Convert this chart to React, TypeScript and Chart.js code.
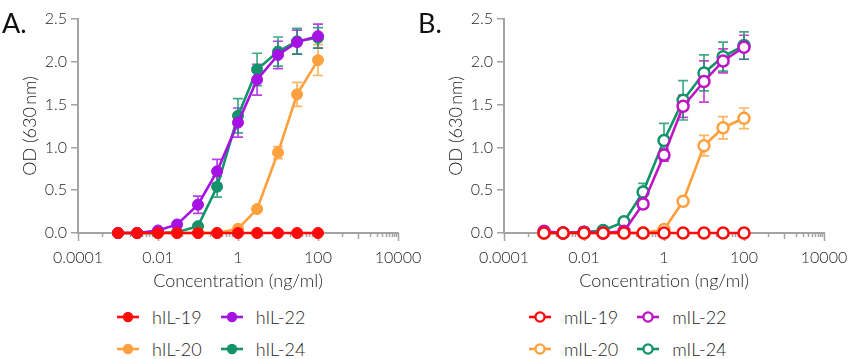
import React, { useEffect, useRef } from 'react';
import { Chart, registerables } from 'chart.js';

Chart.register(...registerables);

// ---------- data ----------
const concentrations = [0.001, 0.003, 0.01, 0.03, 0.1, 0.3, 1, 3, 10, 30, 100];

const hIL19 = [0, 0, 0, 0, 0, 0, 0, 0, 0, 0, 0];
const hIL19Err = [0, 0, 0, 0, 0, 0, 0, 0, 0, 0, 0];
const hIL20 = [0, 0, 0, 0, 0, 0, 0.05, 0.28, 0.94, 1.62, 2.02];
const hIL20Err = [0, 0, 0, 0, 0, 0, 0.02, 0.03, 0.07, 0.14, 0.18];
const hIL22 = [0, 0, 0.03, 0.1, 0.33, 0.72, 1.29, 1.79, 2.08, 2.23, 2.3];
const hIL22Err = [0, 0, 0.01, 0.02, 0.1, 0.14, 0.17, 0.18, 0.16, 0.14, 0.14];
const hIL24 = [0, 0, 0, 0.01, 0.08, 0.54, 1.37, 1.91, 2.12, 2.24, 2.28];
const hIL24Err = [0, 0, 0, 0.01, 0.03, 0.12, 0.2, 0.19, 0.17, 0.15, 0.12];

const mIL19 = [0, 0, 0, 0, 0, 0, 0, 0, 0, 0, 0];
const mIL19Err = [0, 0, 0, 0, 0, 0, 0, 0, 0, 0, 0];
const mIL20 = [0, 0, 0, 0, 0, 0, 0.04, 0.37, 1.02, 1.23, 1.34];
const mIL20Err = [0, 0, 0, 0, 0, 0, 0.02, 0.03, 0.12, 0.13, 0.12];
const mIL22 = [0.02, 0, 0.01, 0, 0.02, 0.34, 0.91, 1.48, 1.77, 2.01, 2.17];
const mIL22Err = [0, 0, 0, 0, 0.01, 0.04, 0.07, 0.13, 0.24, 0.14, 0.14];
const mIL24 = [0, 0, 0.01, 0.03, 0.13, 0.48, 1.08, 1.55, 1.87, 2.06, 2.19];
const mIL24Err = [0, 0, 0, 0.01, 0.02, 0.1, 0.2, 0.23, 0.21, 0.17, 0.16];

const xTickValues = [0.0001, 0.01, 1, 100, 10000];
const xTickLabels = ['0.0001', '0.01', '1', '100', '10000'];
const yTickLabels = ['0.0', '0.5', '1.0', '1.5', '2.0', '2.5'];

const xTitle = 'Concentration (ng/ml)';
const yTitle = 'OD (630\u2009nm)';

// ---------- styles ----------
const RED = '#ff0a0a';
const ORANGE = '#ffa03f';
const PURPLE = '#a512e3';
const GREEN = '#12936a';
const MAGENTA = '#bf14c6';
const AXIS = '#a3a3a3';
const TEXT = '#1f1f1f';
const FONT = 'Lato, "Noto Sans", sans-serif';
const WEIGHT = 300;

type Series = {
  label: string;
  values: number[];
  errors: number[];
  color: string;
  hollow: boolean;
};

function hexToRgba(hex: string, a: number) {
  const h = hex.replace('#', '');
  const r = parseInt(h.slice(0, 2), 16);
  const g = parseInt(h.slice(2, 4), 16);
  const b = parseInt(h.slice(4, 6), 16);
  return `rgba(${r},${g},${b},${a})`;
}

// minor ticks derived from the labelled decades
function buildMinorTicks() {
  const out: { v: number; len: number }[] = [];
  for (let i = 0; i < xTickValues.length - 1; i++) {
    const base = xTickValues[i];
    out.push({ v: base * 4, len: 4 });
    out.push({ v: base * 10, len: 6 });
    for (let k = 2; k <= 9; k++) out.push({ v: base * 10 * k, len: 4 });
  }
  return out;
}
const xMinorTicks = buildMinorTicks();

const axisPlugin = {
  id: 'customAxisAndErrors',
  beforeDatasetsDraw(chart: any) {
    const { ctx, scales, chartArea } = chart;
    const x = scales.x;
    const y = scales.y;
    const yAxis = chartArea.bottom;
    ctx.save();
    ctx.strokeStyle = AXIS;
    ctx.lineWidth = 1.5;
    xTickValues.forEach((v) => {
      const px = Math.round(x.getPixelForValue(v)) + 0.5;
      ctx.beginPath();
      ctx.moveTo(px, yAxis);
      ctx.lineTo(px, yAxis + 8);
      ctx.stroke();
    });
    xMinorTicks.forEach((t) => {
      const px = Math.round(x.getPixelForValue(t.v)) + 0.5;
      ctx.beginPath();
      ctx.moveTo(px, yAxis);
      ctx.lineTo(px, yAxis + t.len);
      ctx.stroke();
    });
    ctx.restore();

    chart.data.datasets.forEach((ds: any) => {
      const errs: number[] = ds.errors;
      if (!errs) return;
      ctx.save();
      ctx.strokeStyle = ds.errorColor;
      ctx.lineWidth = 1.7;
      ds.data.forEach((pt: any, j: number) => {
        const e = errs[j];
        if (!e) return;
        const px = x.getPixelForValue(pt.x);
        const top = y.getPixelForValue(pt.y + e);
        const bot = y.getPixelForValue(Math.max(pt.y - e, 0));
        ctx.beginPath();
        ctx.moveTo(px, top);
        ctx.lineTo(px, bot);
        ctx.moveTo(px - 5, top);
        ctx.lineTo(px + 5, top);
        if (pt.y - e > 0) {
          ctx.moveTo(px - 5, bot);
          ctx.lineTo(px + 5, bot);
        }
        ctx.stroke();
      });
      ctx.restore();
    });
  },
};

function Panel({ series, drawOrder }: { series: Series[]; drawOrder: number[] }) {
  const ref = useRef<HTMLCanvasElement | null>(null);
  useEffect(() => {
    if (!ref.current) return;
    const datasets = drawOrder.map((idx) => {
      const s = series[idx];
      return {
        label: s.label,
        data: concentrations.map((c, i) => ({ x: c, y: s.values[i] })),
        errors: s.errors,
        errorColor: hexToRgba(s.color, 0.8),
        borderColor: s.color,
        backgroundColor: s.hollow ? '#ffffff' : s.color,
        pointBackgroundColor: s.hollow ? '#ffffff' : s.color,
        pointBorderColor: s.color,
        pointBorderWidth: s.hollow ? 2.5 : 1,
        pointRadius: 5.5,
        borderWidth: 2.6,
        tension: 0,
        clip: false as any,
      };
    });
    const chart = new Chart(ref.current, {
      type: 'line',
      data: { datasets: datasets as any },
      plugins: [axisPlugin],
      options: {
        animation: false,
        responsive: false,
        maintainAspectRatio: false,
        devicePixelRatio: 1,
        layout: { padding: { top: 19, right: 27, left: 0, bottom: 0 } },
        plugins: { legend: { display: false }, tooltip: { enabled: false } },
        scales: {
          x: {
            type: 'logarithmic',
            min: 0.0001,
            max: 10000,
            afterBuildTicks: (scale: any) => {
              scale.ticks = xTickValues.map((v) => ({ value: v }));
            },
            afterFit: (scale: any) => {
              scale.height = 67;
              scale.paddingLeft = 0;
              scale.paddingRight = 0;
            },
            ticks: {
              autoSkip: false,
              maxRotation: 0,
              minRotation: 0,
              padding: 15,
              color: TEXT,
              font: { family: FONT, size: 16, weight: WEIGHT as any },
              callback: (v: any) => {
                const i = xTickValues.findIndex((t) => Math.abs(Math.log10(t) - Math.log10(Number(v))) < 1e-6);
                return i >= 0 ? xTickLabels[i] : '';
              },
            },
            grid: { display: false, drawTicks: false },
            border: { display: true, color: AXIS, width: 2 },
            title: {
              display: true,
              text: xTitle,
              color: TEXT,
              font: { family: FONT, size: 18, weight: WEIGHT as any },
              padding: { top: 0, bottom: 8 },
            },
          },
          y: {
            type: 'linear',
            min: 0,
            max: 2.5,
            afterFit: (scale: any) => {
              scale.width = 78;
            },
            ticks: {
              stepSize: 0.5,
              padding: 4,
              color: TEXT,
              font: { family: FONT, size: 16, weight: WEIGHT as any },
              callback: (v: any) => {
                const i = Math.round(Number(v) / 0.5);
                return yTickLabels[i] ?? '';
              },
            },
            grid: {
              display: true,
              drawOnChartArea: false,
              drawTicks: true,
              tickLength: 7,
              color: AXIS,
              lineWidth: 1.5,
            },
            border: { display: true, color: AXIS, width: 2 },
            title: {
              display: true,
              text: yTitle,
              color: TEXT,
              font: { family: FONT, size: 18, weight: WEIGHT as any },
              padding: { top: 19, bottom: 0 },
            },
          },
        },
      },
    });
    return () => chart.destroy();
  }, []);
  return <canvas ref={ref} width={425} height={300} style={{ display: 'block', width: 425, height: 300 }} />;
}

function Marker({ color, hollow }: { color: string; hollow: boolean }) {
  return (
    <svg width={24} height={14} style={{ display: 'block' }}>
      <line x1={1} y1={7} x2={23} y2={7} stroke={color} strokeWidth={2.6} />
      <circle cx={12} cy={7} r={hollow ? 4.6 : 5.2} fill={hollow ? '#fff' : color} stroke={color} strokeWidth={hollow ? 2.4 : 0} />
    </svg>
  );
}

function Legend({ items, left }: { items: Series[]; left: number }) {
  return (
    <div
      style={{
        position: 'absolute',
        left,
        top: 301,
        display: 'grid',
        gridTemplateColumns: 'auto auto',
        columnGap: 18,
        rowGap: 0,
      }}
    >
      {items.map((s) => (
        <div key={s.label} style={{ display: 'flex', alignItems: 'center', height: 32 }}>
          <Marker color={s.color} hollow={s.hollow} />
          <span
            style={{
              marginLeft: 12,
              fontFamily: FONT,
              fontSize: 18,
              fontWeight: WEIGHT,
              color: TEXT,
              lineHeight: '32px',
              whiteSpace: 'nowrap',
            }}
          >
            {s.label}
          </span>
        </div>
      ))}
    </div>
  );
}

const seriesA: Series[] = [
  { label: 'hIL-19', values: hIL19, errors: hIL19Err, color: RED, hollow: false },
  { label: 'hIL-22', values: hIL22, errors: hIL22Err, color: PURPLE, hollow: false },
  { label: 'hIL-20', values: hIL20, errors: hIL20Err, color: ORANGE, hollow: false },
  { label: 'hIL-24', values: hIL24, errors: hIL24Err, color: GREEN, hollow: false },
];
const seriesB: Series[] = [
  { label: 'mIL-19', values: mIL19, errors: mIL19Err, color: RED, hollow: true },
  { label: 'mIL-22', values: mIL22, errors: mIL22Err, color: MAGENTA, hollow: true },
  { label: 'mIL-20', values: mIL20, errors: mIL20Err, color: ORANGE, hollow: true },
  { label: 'mIL-24', values: mIL24, errors: mIL24Err, color: GREEN, hollow: true },
];

export default function App() {
  return (
    <div style={{ position: 'absolute', left: 0, top: 0, width: 850, height: 359, background: '#fff', overflow: 'hidden' }}>
      <div style={{ position: 'absolute', left: 0, top: 0 }}>
        <Panel series={seriesA} drawOrder={[0, 1, 2, 3]} />
      </div>
      <div style={{ position: 'absolute', left: 426, top: 0 }}>
        <Panel series={seriesB} drawOrder={[0, 1, 2, 3]} />
      </div>
      <div style={{ position: 'absolute', left: 2, top: 7, fontFamily: FONT, fontSize: 27, color: '#111', lineHeight: '32px' }}>A.</div>
      <div style={{ position: 'absolute', left: 418, top: 7, fontFamily: FONT, fontSize: 27, color: '#111', lineHeight: '32px' }}>B.</div>
      <Legend items={seriesA} left={116} />
      <Legend items={seriesB} left={528} />
    </div>
  );
}
